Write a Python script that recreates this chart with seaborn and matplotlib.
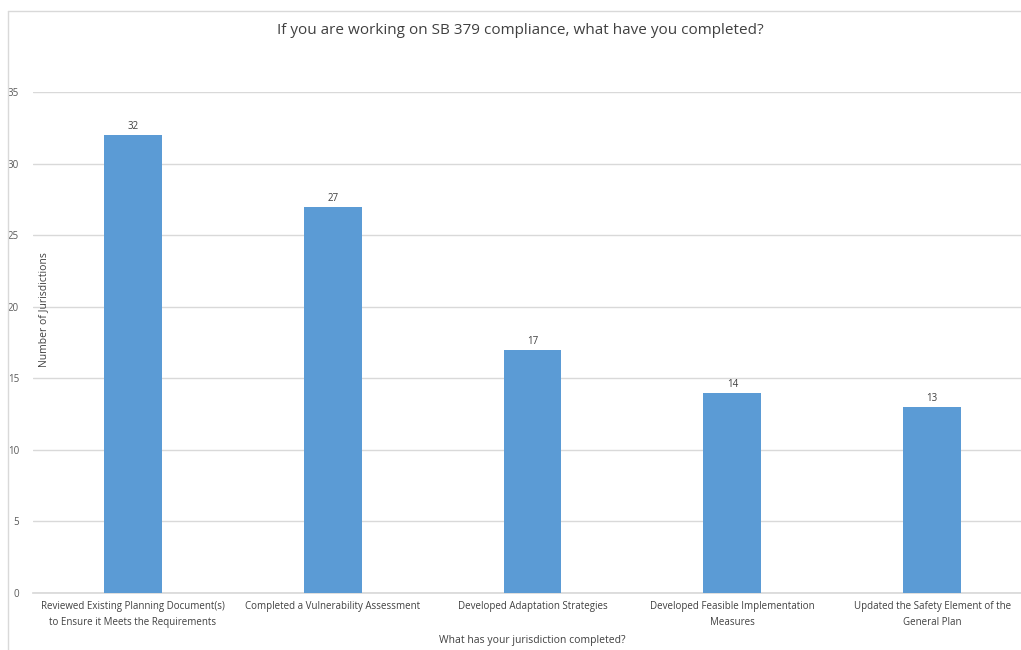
import matplotlib
matplotlib.use("Agg")
import matplotlib.pyplot as plt
import seaborn as sns
import pandas as pd
from matplotlib.lines import Line2D

categories = [
    "Reviewed Existing Planning Document(s)\nto Ensure it Meets the Requirements",
    "Completed a Vulnerability Assessment",
    "Developed Adaptation Strategies",
    "Developed Feasible Implementation\nMeasures",
    "Updated the Safety Element of the\nGeneral Plan",
]
values = [32, 27, 17, 14, 13]
yticks = [0, 5, 10, 15, 20, 25, 30, 35]

title = "If you are working on SB 379 compliance, what have you completed?"
xlabel = "What has your jurisdiction completed?"
ylabel = "Number of Jurisdictions"

sns.set_theme(style="white")
plt.rcParams['font.family'] = ['Open Sans', 'DejaVu Sans']

W, H = 1021, 650
fig = plt.figure(figsize=(W / 100, H / 100), dpi=100)
ax = fig.add_axes([33 / W, (H - 593) / H, 999 / W, 501 / H])

df = pd.DataFrame({"cat": categories, "val": values})
sns.barplot(data=df, x="cat", y="val", color="#5B9BD5", saturation=1, width=0.29,
            ax=ax, zorder=3, edgecolor="none", linewidth=0)

ax.set_xlim(-0.5, 4.5)
ax.set_ylim(0, 35)
ax.set_yticks(yticks)
ax.set_yticklabels([str(v) for v in yticks], fontsize=7, color="#595959")
ax.tick_params(axis="y", length=0, pad=10)
ax.tick_params(axis="x", length=0, pad=6)
ax.set_xticks(range(len(categories)))
ax.set_xticklabels(categories, fontsize=7, color="#404040", linespacing=1.6)
ax.yaxis.grid(True, color="#D9D9D9", linewidth=1, zorder=0)
ax.set_axisbelow(True)
for s in ["top", "right", "left"]:
    ax.spines[s].set_visible(False)
ax.spines["bottom"].set_color("#D9D9D9")
ax.set_xlabel("")
ax.set_ylabel("")

for i, v in enumerate(values):
    ax.annotate(str(v), (i, v), xytext=(0, 2), textcoords="offset points",
                ha="center", va="bottom", fontsize=7, color="#404040")

fig.text(520 / W, 1 - 30 / H, title, ha="center", va="center", fontsize=11, color="#404040")
fig.text(532 / W, 1 - 640 / H, xlabel, ha="center", va="center", fontsize=7.5, color="#404040")
fig.text(44 / W, 1 - 310 / H, ylabel, ha="center", va="center", rotation=90, fontsize=7.5, color="#404040")

# chart border (left and top visible)
fig.add_artist(Line2D([8 / W, 8 / W], [0, 1 - 11 / H], transform=fig.transFigure, color="#D9D9D9", lw=1))
fig.add_artist(Line2D([8 / W, 1], [1 - 11 / H, 1 - 11 / H], transform=fig.transFigure, color="#D9D9D9", lw=1))

fig.savefig("out.png", dpi=100, facecolor="white")
